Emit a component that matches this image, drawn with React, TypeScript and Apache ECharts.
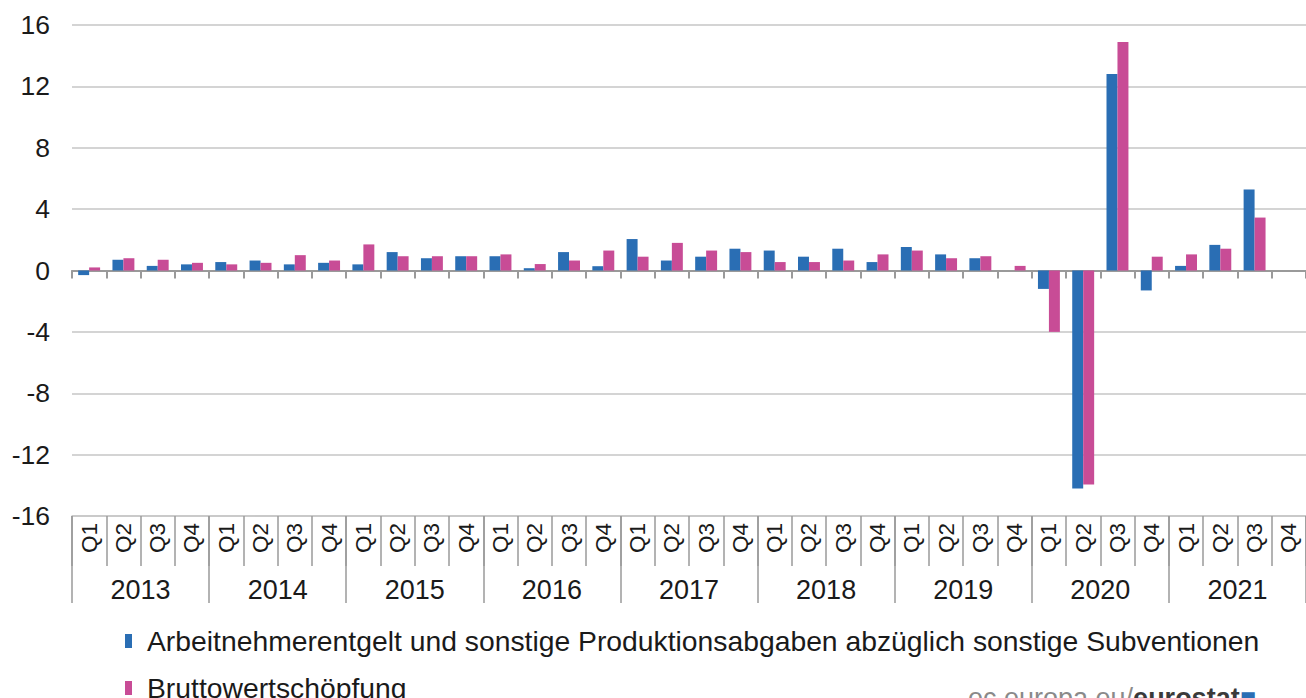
import React, { useEffect, useRef } from "react";
import * as echarts from "echarts";

const years = ["2013", "2014", "2015", "2016", "2017", "2018", "2019", "2020", "2021"];
const quartersPerYear = ["Q1", "Q2", "Q3", "Q4"];
const quarterLabels: string[] = years.flatMap(() => quartersPerYear);
const categories: string[] = years.flatMap((y) => quartersPerYear.map((q) => `${y} ${q}`));

const seriesNames = [
  "Arbeitnehmerentgelt und sonstige Produktionsabgaben abzüglich sonstige Subventionen",
  "Bruttowertschöpfung",
];

const arbeitnehmer: (number | null)[] = [
  -0.3, 0.7, 0.3, 0.4,
  0.55, 0.65, 0.4, 0.5,
  0.4, 1.2, 0.8, 0.93,
  0.93, 0.15, 1.2, 0.28,
  2.05, 0.65, 0.9, 1.42,
  1.3, 0.9, 1.42, 0.55,
  1.53, 1.05, 0.8, 0,
  -1.2, -14.2, 12.8, -1.3,
  0.3, 1.67, 5.28, null,
];

const bruttowert: (number | null)[] = [
  0.2, 0.8, 0.7, 0.5,
  0.4, 0.5, 1.0, 0.65,
  1.7, 0.93, 0.93, 0.93,
  1.05, 0.42, 0.65, 1.3,
  0.9, 1.8, 1.3, 1.2,
  0.55, 0.55, 0.65, 1.05,
  1.3, 0.8, 0.93, 0.3,
  -4.0, -13.95, 14.9, 0.9,
  1.05, 1.42, 3.45, null,
];

const FONT = "'Liberation Sans', Arial, sans-serif";
const TEXT = "#1a1a1a";
const GRID_GRAY = "#c6c6c6";
const AXIS_GRAY = "#9a9a9a";

export default function App() {
  const ref = useRef<HTMLDivElement>(null);

  useEffect(() => {
    if (!ref.current) return;
    const chart = echarts.init(ref.current, undefined, { renderer: "svg" });
    chart.setOption({
      animation: false,
      backgroundColor: "#ffffff",
      textStyle: { fontFamily: FONT },
      grid: { left: 72, right: -6, top: 25, bottom: 182, containLabel: false },
      legend: {
        orient: "vertical",
        left: 120,
        top: 622,
        height: 140,
        itemGap: 19,
        itemWidth: 7,
        itemHeight: 14,
        icon: "rect",
        textStyle: { fontSize: 28.3, color: TEXT, fontFamily: FONT, padding: [0, 0, 0, 10] },
        data: seriesNames,
      },
      xAxis: [
        {
          type: "category",
          data: categories,
          position: "bottom",
          axisLine: { onZero: false, show: true, lineStyle: { color: GRID_GRAY, width: 1.5 } },
          axisTick: { show: true, interval: 0, length: 50, lineStyle: { color: AXIS_GRAY, width: 1.5 } },
          axisLabel: {
            interval: 0,
            rotate: 90,
            margin: 7,
            fontSize: 22.5,
            color: TEXT,
            fontFamily: FONT,
            formatter: (_v: string, i: number) => quarterLabels[i],
          },
          splitLine: { show: false },
        },
        {
          type: "category",
          data: years,
          position: "bottom",
          axisLine: { onZero: false, show: false },
          axisTick: { show: true, interval: 0, length: 87, lineStyle: { color: AXIS_GRAY, width: 1.5 } },
          axisLabel: { interval: 0, margin: 60, fontSize: 27, color: TEXT, fontFamily: FONT },
          splitLine: { show: false },
        },
        {
          type: "category",
          data: categories,
          position: "bottom",
          axisLine: { onZero: true, show: true, lineStyle: { color: AXIS_GRAY, width: 2 } },
          axisTick: { show: true, interval: 0, length: 8, lineStyle: { color: AXIS_GRAY, width: 2 } },
          axisLabel: { show: false },
          splitLine: { show: false },
        },
      ],
      yAxis: {
        type: "value",
        min: -16,
        max: 16,
        interval: 4,
        axisLine: { show: false },
        axisTick: { show: false },
        axisLabel: { fontSize: 26.5, color: TEXT, margin: 22, fontFamily: FONT },
        splitLine: { lineStyle: { color: GRID_GRAY, width: 1.5 } },
      },
      series: [
        {
          name: seriesNames[0],
          type: "bar",
          xAxisIndex: 0,
          data: arbeitnehmer,
          barGap: "0%",
          barCategoryGap: "36%",
          itemStyle: { color: "#2A6EB4" },
        },
        {
          name: seriesNames[1],
          type: "bar",
          xAxisIndex: 0,
          data: bruttowert,
          barGap: "0%",
          barCategoryGap: "36%",
          itemStyle: { color: "#C84C96" },
        },
      ],
      graphic: [
        {
          type: "text",
          left: 968,
          top: 684,
          style: {
            text: "{a|ec.europa.eu/}{b|eurostat}{c|■}",
            rich: {
              a: { fontSize: 27, fill: "#8a8a8a", fontFamily: FONT },
              b: { fontSize: 27, fill: "#3a3a3a", fontWeight: "bold", fontFamily: FONT },
              c: { fontSize: 27, fill: "#2A6EB4", fontFamily: FONT },
            },
          },
        },
      ],
    });
    return () => chart.dispose();
  }, []);

  return <div ref={ref} style={{ width: 1306, height: 698, position: "absolute", left: 0, top: 0 }} />;
}
